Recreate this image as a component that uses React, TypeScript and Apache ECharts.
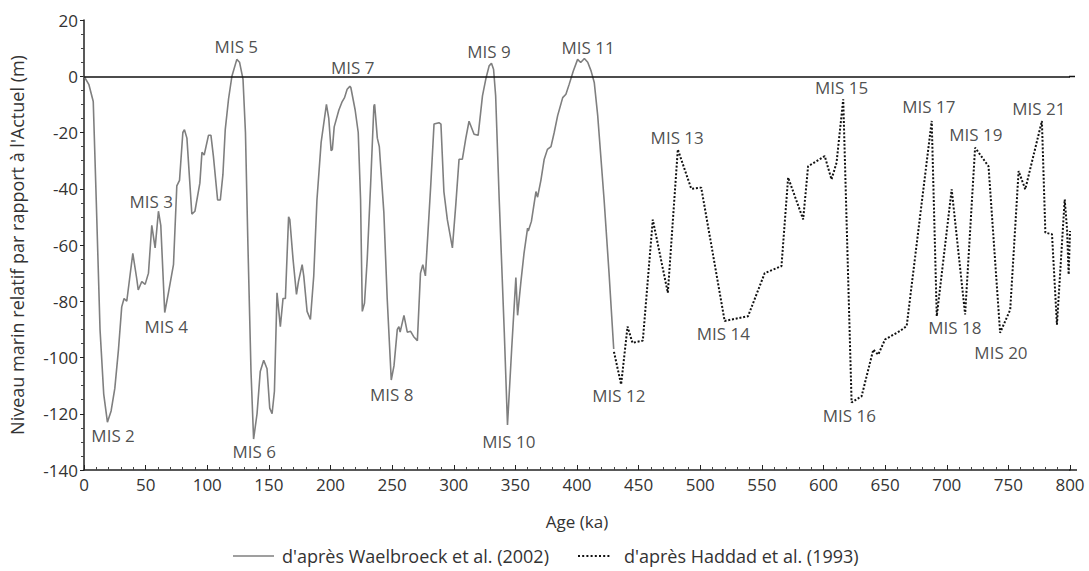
import React, { useEffect, useRef } from "react";
import * as echarts from "echarts";

// Waelbroeck et al. (2002) — age (ka), relative sea level (m)
const waelbroeckAge = [0,4,7.5,10,13,16,19,22,25,28,30.6,32.5,34.7,37,39.6,42.8,44,46.9,49.6,52.3,55,57.7,60.4,62.3,65.5,68.5,72.6,75.3,77.5,80.2,81.5,83.5,87.5,90,94,95.7,97.5,101,103,105,108.4,110.6,112.7,114.6,117.3,120,124,126.2,129,131,133,135.5,137.6,140.4,143,145.8,148.5,150.7,152.6,154.5,156.6,159.3,161.5,163.4,166,167,169.6,172.4,174,177,178.3,181,183.7,186.4,189,192.4,196.7,198.6,200.5,201.5,203,206.8,209.5,211.4,213.5,215.7,216.5,220,222.5,224.4,225.8,227.6,229.8,232.5,235.2,235.8,238,239.6,243.3,246,249.3,251.5,254.2,255.5,256.5,259.6,262.3,265,267.5,270.5,273,274.9,277,281.3,284,288,289.6,292,294.8,298.9,301.6,304.3,307,309.8,312.4,316.5,319.8,323.3,326,328.7,330.6,332.3,334,336.9,341,343.6,347,350.4,351.8,354.5,357,359.9,360.5,363,366.7,368,370.7,373.4,376,378.9,381.5,384.3,388.4,391,393.7,397,400.5,403,406,408.7,411.4,414,416.8,422,426,429.8];
const waelbroeckLevel = [0,-3,-9,-45,-90,-113,-123,-119,-111,-97,-82,-79,-80,-72,-63,-72,-76,-73,-74,-70,-53,-61,-48,-53,-84,-77,-67,-39,-37,-20,-19,-22,-49,-48,-38,-27,-28,-21,-21,-28.5,-44,-44,-35,-19,-8,0,6,5,-1,-20,-60,-105,-129,-120,-105,-101,-104,-118,-120,-112,-77,-89,-79,-79,-50,-51,-65,-77.6,-73,-67,-71,-83.6,-86.5,-71,-44,-23.5,-10,-15,-26.5,-26,-18,-12,-9,-7.6,-4.6,-3.6,-4,-12,-20,-44,-83.6,-80.6,-65,-39,-10.6,-10,-22,-25,-48.5,-79,-108,-103,-90,-89,-91,-85,-91,-90.7,-92.6,-94,-70,-67,-71,-39,-17,-16.5,-17,-41,-51,-61,-46,-29.5,-29.5,-22,-16,-20.6,-21,-7,-1,3.7,4.6,2.5,-7,-44,-91,-124,-97,-71.6,-85,-73,-63,-54,-55,-51.6,-41,-43,-37,-29.5,-26,-25,-20,-14,-7.6,-6.4,-2.8,1.9,6,4.9,6.3,5,1.9,-2.2,-14,-44,-70,-97];

// Haddad et al. (1993)
const haddadAge = [430,435.8,441,445,453.4,461.5,473.7,481.8,492.7,500.8,519.8,538.8,552.3,565.9,571.3,583.5,587.5,601,606.5,610.6,616,622.8,630.9,640.4,644.4,649.9,662,667.5,687.8,691.9,704,714.9,723,733.9,743.3,751.5,758.3,763.7,777.2,780,785.4,789.4,795.7,797.6,798.9,800];
const haddadLevel = [-98,-109.6,-89,-94.8,-94,-51,-77,-26,-40,-39.6,-87,-85.3,-70,-67.5,-36,-50.9,-32,-28.4,-36.7,-30.7,-8.2,-116,-113.8,-97.2,-99,-93.6,-90.6,-88.8,-15.9,-85.3,-40.2,-84.7,-25.4,-32,-91.2,-83,-33.7,-40.2,-15.9,-55.6,-56.2,-88.3,-43.8,-54.4,-70.5,-55];

// Marine isotope stage annotations (anchor in data coordinates)
const misNames = ["MIS 2","MIS 3","MIS 4","MIS 5","MIS 6","MIS 7","MIS 8","MIS 9","MIS 10","MIS 11","MIS 12","MIS 13","MIS 14","MIS 15","MIS 16","MIS 17","MIS 18","MIS 19","MIS 20","MIS 21"];
const misAge = [23.6,54.5,66.7,123.6,138.2,218,249.6,328.5,344.7,409,434,481.3,518.7,614.6,621,685.4,706.5,723.6,744,774.8];
const misLevel = [-127.8,-44.5,-89,10.7,-133.5,3.2,-113,8.9,-130,10.3,-113.5,-21.7,-91.5,-3.9,-120.6,-10.7,-89.3,-20.6,-98.2,-11.4];

const xTicks = { min: 0, max: 800, interval: 50 };
const yTicks = { min: -140, max: 20, interval: 20 };

const SERIES_A = "d'après Waelbroeck et al. (2002)";
const SERIES_B = "d'après Haddad et al. (1993)";
const FONT = "'Open Sans', 'Noto Sans', sans-serif";
const GRAY = "#7f7f7f";
const INK = "#111";

export default function App() {
  const ref = useRef<HTMLDivElement>(null);
  useEffect(() => {
    if (!ref.current) return;
    const chart = echarts.init(ref.current, undefined, { renderer: "svg" });
    const a = waelbroeckAge.map((x, i) => [x, waelbroeckLevel[i]]);
    const b = haddadAge.map((x, i) => [x, haddadLevel[i]]);
    const labels = misNames.map((n, i) => ({ name: n, value: [misAge[i], misLevel[i]] }));
    chart.setOption({
      animation: false,
      backgroundColor: "#ffffff",
      textStyle: { fontFamily: FONT },
      grid: { left: 84, right: 19, top: 20, bottom: 101, containLabel: false },
      xAxis: {
        type: "value",
        min: xTicks.min,
        max: xTicks.max,
        interval: xTicks.interval,
        name: "Age (ka)",
        nameLocation: "middle",
        nameGap: 43,
        nameTextStyle: { fontSize: 17, color: "#333", fontFamily: FONT },
        axisLine: { show: true, onZero: false, lineStyle: { color: "#222", width: 1.5 } },
        axisTick: { show: true, inside: true, length: 5, lineStyle: { color: "#222" } },
        minorTick: { show: true, splitNumber: 5, length: 3, lineStyle: { color: "#444" } },
        axisLabel: { fontSize: 17, color: "#333", margin: 6, fontFamily: FONT },
        splitLine: { show: false },
      },
      yAxis: {
        type: "value",
        min: yTicks.min,
        max: yTicks.max,
        interval: yTicks.interval,
        name: "Niveau marin relatif par rapport à l'Actuel (m)",
        nameLocation: "middle",
        nameGap: 58,
        nameRotate: 90,
        nameTextStyle: { fontSize: 18, color: "#333", fontFamily: FONT },
        axisLine: { show: true, onZero: false, lineStyle: { color: "#222", width: 1.5 } },
        axisTick: { show: true, length: 4, lineStyle: { color: "#222" } },
        minorTick: { show: true, splitNumber: 4, length: 3, lineStyle: { color: "#444" } },
        axisLabel: { fontSize: 17, color: "#333", margin: 6, fontFamily: FONT },
        splitLine: { show: false },
      },
      graphic: [
        // short extensions of the axis line and the zero line past 800 ka
        { type: "line", shape: { x1: 1069, y1: 470, x2: 1077, y2: 470 }, style: { stroke: "#222", lineWidth: 1.5 } },
        { type: "line", shape: { x1: 1069, y1: 76.5, x2: 1075, y2: 76.5 }, style: { stroke: INK, lineWidth: 1.5 } },
        // legend
        { type: "line", shape: { x1: 233, y1: 556, x2: 274, y2: 556 }, style: { stroke: GRAY, lineWidth: 1.6 } },
        { type: "text", x: 282, y: 556, style: { text: SERIES_A, fontSize: 18, fill: "#333", fontFamily: FONT, textVerticalAlign: "middle", verticalAlign: "middle" } },
        { type: "line", shape: { x1: 578, y1: 556, x2: 611, y2: 556 }, style: { stroke: INK, lineWidth: 2, lineDash: [2, 2.2] } },
        { type: "text", x: 624, y: 556, style: { text: SERIES_B, fontSize: 18, fill: "#333", fontFamily: FONT, textVerticalAlign: "middle", verticalAlign: "middle" } },
      ],
      series: [
        {
          name: SERIES_A,
          type: "line",
          data: a,
          symbol: "none",
          lineStyle: { color: GRAY, width: 1.6 },
          itemStyle: { color: GRAY },
          markLine: {
            silent: true,
            symbol: "none",
            label: { show: false },
            lineStyle: { color: INK, width: 1.5, type: "solid" },
            data: [{ yAxis: 0 }],
          },
          z: 3,
        },
        {
          name: SERIES_B,
          type: "line",
          data: b,
          symbol: "none",
          lineStyle: { color: INK, width: 2, type: [2, 1.8] },
          itemStyle: { color: INK },
          z: 3,
        },
        {
          name: "labels",
          type: "scatter",
          data: labels,
          symbolSize: 0,
          silent: true,
          label: {
            show: true,
            position: "inside",
            formatter: "{b}",
            fontSize: 17,
            color: "#222",
            fontFamily: FONT,
          },
          z: 5,
        },
      ],
    });
    return () => chart.dispose();
  }, []);
  return (
    <div
      ref={ref}
      style={{ position: "absolute", left: 0, top: 0, width: 1089, height: 571 }}
    />
  );
}
